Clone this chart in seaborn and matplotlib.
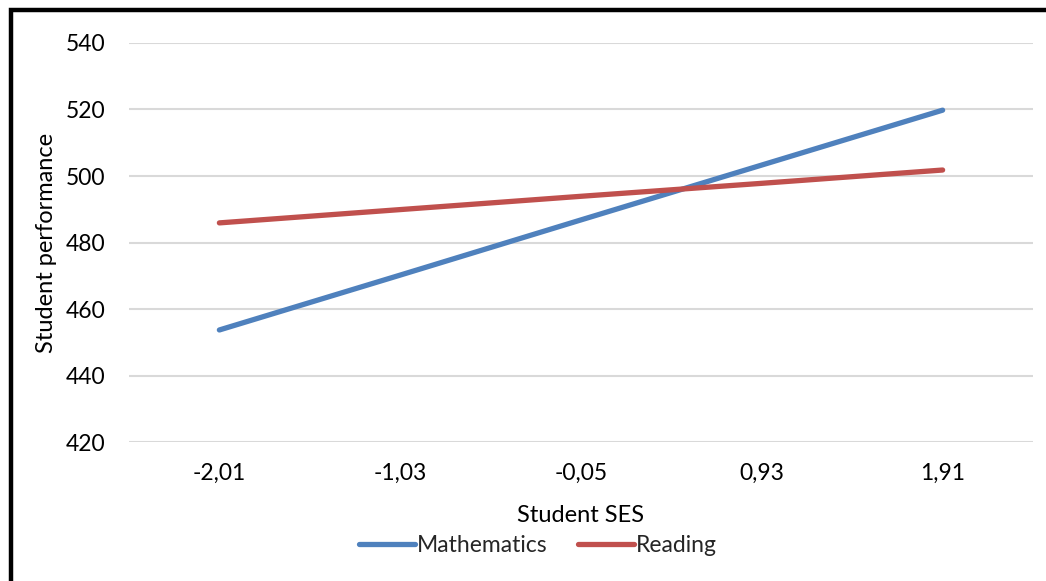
import matplotlib
matplotlib.use("Agg")
import matplotlib.pyplot as plt
import seaborn as sns
import pandas as pd
from matplotlib.patches import Rectangle

ses_labels = ["-2,01", "-1,03", "-0,05", "0,93", "1,91"]
mathematics = [453.7, 470.2, 486.8, 503.3, 519.8]
reading = [485.9, 489.9, 493.9, 497.8, 501.8]
series_names = ["Mathematics", "Reading"]
y_ticks = [420, 440, 460, 480, 500, 520, 540]

df = pd.DataFrame({
    "Student SES": ses_labels * 2,
    "Student performance": mathematics + reading,
    "Subject": [series_names[0]] * len(ses_labels) + [series_names[1]] * len(ses_labels),
})

sns.set_theme(style="white")
plt.rcParams["font.family"] = ["Lato", "DejaVu Sans"]

fig = plt.figure(figsize=(10.46, 5.81), dpi=100)
ax = fig.add_axes([0.1233, 0.2392, 0.8643, 0.6868])

sns.lineplot(data=df, x="Student SES", y="Student performance", hue="Subject",
             palette=["#4F81BD", "#C0504D"], linewidth=3.8, ax=ax, sort=False,
             solid_capstyle="round")

ax.set_xlim(-0.5, 4.5)
ax.set_ylim(420, 540)
ax.set_yticks(y_ticks)
ax.yaxis.grid(True, color="#D9D9D9", linewidth=1.5)
ax.set_axisbelow(True)
for s in ax.spines.values():
    s.set_visible(False)
ax.tick_params(axis="both", length=0, labelsize=16.5, colors="black")
ax.tick_params(axis="x", pad=15)
ax.tick_params(axis="y", pad=17)
ax.set_xlabel("Student SES", fontsize=17, labelpad=15, color="black")
ax.set_ylabel("Student performance", fontsize=17, labelpad=6, color="black")

leg = ax.legend(loc="center", bbox_to_anchor=(538 / 1046, 1 - 546 / 581),
                bbox_transform=fig.transFigure, ncol=2, frameon=False,
                fontsize=16.5, handlelength=2.45, handletextpad=0.1,
                columnspacing=1.3, borderaxespad=0)

fig.patches.append(Rectangle((10.5 / 1046, -0.2), 1.5, 1.2 - 9.5 / 581,
                             transform=fig.transFigure, fill=False,
                             edgecolor="black", linewidth=3.2, zorder=10))

fig.savefig("out.png", dpi=100, facecolor="white")
